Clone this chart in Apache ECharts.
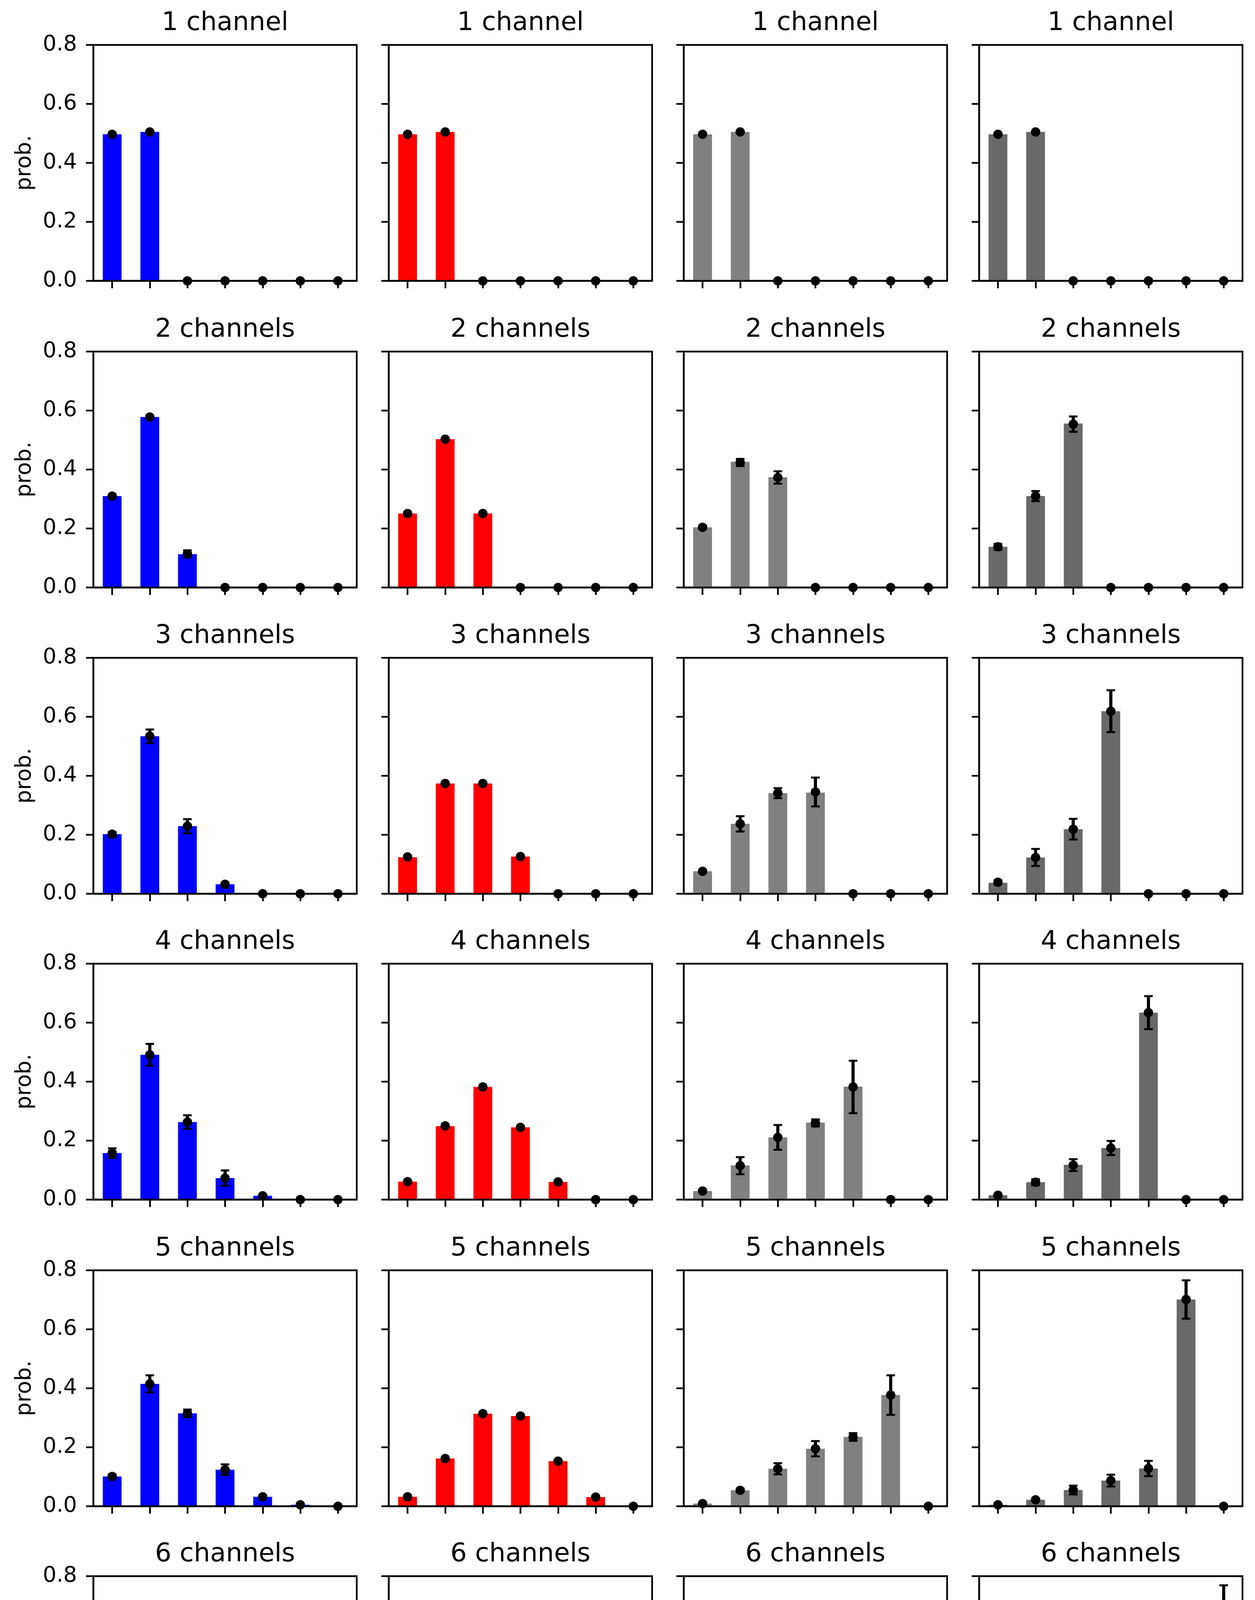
<!DOCTYPE html>
<html>
<head>
<meta charset="utf-8">
<script src="https://cdn.jsdelivr.net/npm/echarts/dist/echarts.min.js"></script>
<style>
  html, body { margin: 0; padding: 0; background: #fff; }
  #main { width: 3212px; height: 4831px; }
</style>
</head>
<body>
<div id="main"></div>
<script>
const levels = ['0', '1', '2', '3', '4', '5', '6']
const titles = ['1 channel', '2 channels', '3 channels', '4 channels', '5 channels', '6 channels']

// column 1 (blue)
const blueBars = [
  [0.497, 0.505, 0, 0, 0, 0, 0],
  [0.310, 0.578, 0.113, 0, 0, 0, 0],
  [0.202, 0.534, 0.229, 0.032, 0, 0, 0],
  [0.158, 0.491, 0.263, 0.073, 0.013, 0, 0],
  [0.101, 0.415, 0.315, 0.124, 0.032, 0.005, 0],
  [0.092, 0.395, 0.317, 0.134, 0.047, 0.012, 0]
]
const blueDots = [
  [0.497, 0.505, 0, 0, 0, 0, 0],
  [0.310, 0.578, 0.114, 0, 0, 0, 0],
  [0.202, 0.534, 0.229, 0.032, 0, 0, 0],
  [0.158, 0.491, 0.263, 0.073, 0.013, 0, 0],
  [0.101, 0.415, 0.315, 0.124, 0.032, 0.005, 0],
  [0.091, 0.395, 0.316, 0.134, 0.046, 0.014, 0.002]
]
const blueErr = [
  [0.003, 0.003, 0, 0, 0, 0, 0],
  [0.006, 0.005, 0.012, 0, 0, 0, 0],
  [0.008, 0.023, 0.024, 0.006, 0, 0, 0],
  [0.016, 0.037, 0.023, 0.026, 0.004, 0, 0],
  [0.008, 0.029, 0.013, 0.018, 0.005, 0.002, 0],
  [0.015, 0.055, 0.014, 0.036, 0.020, 0.004, 0]
]

// column 2 (red)
const redBars = [
  [0.497, 0.505, 0, 0, 0, 0, 0],
  [0.251, 0.503, 0.251, 0, 0, 0, 0],
  [0.124, 0.374, 0.374, 0.126, 0, 0, 0],
  [0.061, 0.249, 0.382, 0.245, 0.060, 0, 0],
  [0.032, 0.162, 0.314, 0.306, 0.153, 0.031, 0],
  [0.015, 0.092, 0.236, 0.311, 0.234, 0.092, 0.014]
]
const redDots = [
  [0.497, 0.505, 0, 0, 0, 0, 0],
  [0.251, 0.503, 0.251, 0, 0, 0, 0],
  [0.125, 0.374, 0.374, 0.126, 0, 0, 0],
  [0.061, 0.250, 0.382, 0.245, 0.060, 0, 0],
  [0.032, 0.162, 0.314, 0.306, 0.153, 0.031, 0],
  [0.016, 0.092, 0.236, 0.312, 0.234, 0.092, 0.014]
]
const redErr = [
  [0.002, 0.002, 0, 0, 0, 0, 0],
  [0.002, 0.002, 0.002, 0, 0, 0, 0],
  [0.002, 0.002, 0.002, 0.002, 0, 0, 0],
  [0.002, 0.002, 0.002, 0.002, 0.002, 0, 0],
  [0.002, 0.002, 0.002, 0.002, 0.002, 0.002, 0],
  [0.002, 0.002, 0.002, 0.002, 0.002, 0.002, 0.002]
]

// column 3 (grey)
const greyBars = [
  [0.497, 0.505, 0, 0, 0, 0, 0],
  [0.204, 0.426, 0.374, 0, 0, 0, 0],
  [0.076, 0.237, 0.341, 0.343, 0, 0, 0],
  [0.029, 0.116, 0.211, 0.261, 0.383, 0, 0],
  [0.009, 0.054, 0.127, 0.195, 0.235, 0.377, 0],
  [0.003, 0.027, 0.074, 0.124, 0.154, 0.173, 0.439]
]
const greyDots = [
  [0.497, 0.505, 0, 0, 0, 0, 0],
  [0.204, 0.424, 0.373, 0, 0, 0, 0],
  [0.076, 0.237, 0.341, 0.345, 0, 0, 0],
  [0.029, 0.115, 0.211, 0.260, 0.382, 0, 0],
  [0.009, 0.054, 0.127, 0.195, 0.235, 0.377, 0],
  [0.006, 0.027, 0.074, 0.123, 0.153, 0.173, 0.439]
]
const greyErr = [
  [0.003, 0.003, 0, 0, 0, 0, 0],
  [0.006, 0.012, 0.021, 0, 0, 0, 0],
  [0.005, 0.026, 0.017, 0.049, 0, 0, 0],
  [0.004, 0.029, 0.042, 0.012, 0.089, 0, 0],
  [0.003, 0.006, 0.019, 0.026, 0.013, 0.067, 0],
  [0.003, 0.006, 0.022, 0.033, 0.033, 0.022, 0.109]
]

// column 4 (dark grey)
const dimBars = [
  [0.497, 0.505, 0, 0, 0, 0, 0],
  [0.138, 0.310, 0.556, 0, 0, 0, 0],
  [0.037, 0.123, 0.219, 0.619, 0, 0, 0],
  [0.015, 0.059, 0.118, 0.175, 0.634, 0, 0],
  [0.005, 0.022, 0.055, 0.087, 0.128, 0.701, 0],
  [0.001, 0.012, 0.035, 0.061, 0.077, 0.106, 0.702]
]
const dimDots = [
  [0.497, 0.505, 0, 0, 0, 0, 0],
  [0.138, 0.310, 0.554, 0, 0, 0, 0],
  [0.039, 0.123, 0.219, 0.619, 0, 0, 0],
  [0.015, 0.059, 0.117, 0.175, 0.634, 0, 0],
  [0.005, 0.022, 0.055, 0.087, 0.128, 0.701, 0],
  [0.004, 0.013, 0.035, 0.061, 0.077, 0.106, 0.702]
]
const dimErr = [
  [0.003, 0.003, 0, 0, 0, 0, 0],
  [0.010, 0.017, 0.026, 0, 0, 0, 0],
  [0.007, 0.029, 0.035, 0.071, 0, 0, 0],
  [0.004, 0.010, 0.020, 0.024, 0.056, 0, 0],
  [0.002, 0.004, 0.015, 0.020, 0.026, 0.065, 0],
  [0.002, 0.004, 0.011, 0.018, 0.019, 0.019, 0.067]
]

const yTicks = [0, 0.2, 0.4, 0.6, 0.8]

const columns = [
  { bars: blueBars, dots: blueDots, err: blueErr, color: '#0000ff' },
  { bars: redBars, dots: redDots, err: redErr, color: '#ff0000' },
  { bars: greyBars, dots: greyDots, err: greyErr, color: '#808080' },
  { bars: dimBars, dots: dimDots, err: dimErr, color: '#696969' }
]

const FONT = 'DejaVu Sans'
const colLeft = [239, 995, 1750, 2506]
const rowTop = [115, 900, 1684, 2467, 3252, 4035]
const W = 674
const H = 604
const LW = 4.4

const option = {
  animation: false,
  backgroundColor: '#fff',
  title: [],
  grid: [],
  xAxis: [],
  yAxis: [],
  series: []
}

function errorBarItem(params, api) {
  const x = api.value(0)
  const y = api.value(1)
  const e = api.value(2)
  if (!e) return null
  const lo = api.coord([x, Math.max(0, y - e)])
  const hi = api.coord([x, y + e])
  const cap = 11
  const s = { stroke: '#000', lineWidth: 8 }
  const c = { stroke: '#000', lineWidth: 5 }
  return {
    type: 'group',
    children: [
      { type: 'line', shape: { x1: lo[0], y1: lo[1], x2: hi[0], y2: hi[1] }, style: s },
      { type: 'line', shape: { x1: lo[0] - cap, y1: lo[1], x2: lo[0] + cap, y2: lo[1] }, style: c },
      { type: 'line', shape: { x1: hi[0] - cap, y1: hi[1], x2: hi[0] + cap, y2: hi[1] }, style: c }
    ]
  }
}

let k = 0
for (let r = 0; r < 6; r++) {
  for (let c = 0; c < 4; c++) {
    const col = columns[c]
    const last = r === 5
    const big = c === 3

    option.title.push({
      text: titles[r],
      left: colLeft[c] + W / 2,
      top: rowTop[r] - 88,
      textAlign: 'center',
      padding: 0,
      textStyle: { fontFamily: FONT, fontSize: 66, fontWeight: 'normal', color: '#000' }
    })

    option.grid.push({
      left: colLeft[c], top: rowTop[r], width: W, height: H,
      show: true, borderColor: '#000', borderWidth: LW, backgroundColor: 'transparent',
      containLabel: false, outerBoundsMode: 'none'
    })

    option.xAxis.push({
      type: 'category',
      gridIndex: k,
      data: levels,
      z: 5,
      name: last ? 'current levels' : '',
      nameLocation: 'middle',
      nameGap: big ? 126 : 115,
      nameTextStyle: { fontFamily: FONT, fontSize: 55, color: '#000' },
      axisLine: { show: true, lineStyle: { color: '#000', width: LW } },
      axisTick: { show: true, alignWithLabel: true, length: 19, lineStyle: { color: '#000', width: LW } },
      axisLabel: {
        show: last,
        margin: big ? 30 : 36,
        fontFamily: FONT,
        fontSize: big ? 73 : 55,
        color: '#000'
      },
      splitLine: { show: false }
    })

    option.yAxis.push({
      type: 'value',
      gridIndex: k,
      min: 0,
      max: 0.8,
      interval: 0.2,
      z: 5,
      name: c === 0 ? 'prob.' : '',
      nameLocation: 'middle',
      nameRotate: 90,
      nameGap: 148,
      nameTextStyle: { fontFamily: FONT, fontSize: 55, color: '#000' },
      axisLine: { show: true, lineStyle: { color: '#000', width: LW } },
      axisTick: { show: true, length: 19, lineStyle: { color: '#000', width: LW } },
      axisLabel: {
        show: c === 0,
        margin: 42,
        fontFamily: FONT,
        fontSize: 55,
        color: '#000',
        formatter: v => (yTicks.some(t => Math.abs(t - v) < 1e-9) ? v.toFixed(1) : '')
      },
      splitLine: { show: false }
    })

    option.series.push({
      type: 'bar',
      xAxisIndex: k,
      yAxisIndex: k,
      barWidth: '50%',
      itemStyle: { color: col.color },
      z: 2,
      data: col.bars[r]
    })

    option.series.push({
      type: 'custom',
      xAxisIndex: k,
      yAxisIndex: k,
      z: 3,
      clip: true,
      renderItem: errorBarItem,
      encode: { x: 0, y: 1 },
      data: col.dots[r].map((v, i) => [i, v, col.err[r][i]])
    })

    option.series.push({
      type: 'scatter',
      xAxisIndex: k,
      yAxisIndex: k,
      symbol: 'circle',
      symbolSize: 24,
      clip: true,
      z: 4,
      itemStyle: { color: '#000', opacity: 1 },
      data: col.dots[r].map((v, i) => [i, v])
    })

    k++
  }
}

const chart = echarts.init(document.getElementById('main'), null, { renderer: 'canvas' })
chart.setOption(option)
</script>
</body>
</html>
